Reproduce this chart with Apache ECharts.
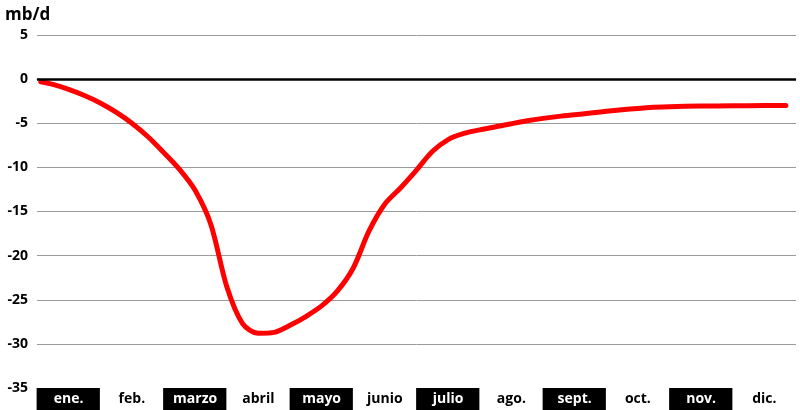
<!DOCTYPE html>
<html><head><meta charset="utf-8">
<script src="https://cdn.jsdelivr.net/npm/echarts@6/dist/echarts.min.js"></script>
<style>html,body{margin:0;padding:0;background:#fff}#c{width:800px;height:410px}</style>
</head><body><div id="c"></div>
<script>
const unitLabel = 'mb/d';
const months = ['ene.','feb.','marzo','abril','mayo','junio','julio','ago.','sept.','oct.','nov.','dic.'];
// position along the year, in months from the start of January
const monthPos = [0.06,0.25,0.5,0.75,1.0,1.25,1.5,1.75,2.0,2.25,2.5,2.75,3.0,3.25,3.5,3.75,4.0,4.25,4.5,4.75,5.0,5.25,5.5,5.75,6.0,6.25,6.5,6.75,7.0,7.25,7.5,7.75,8.0,8.25,8.5,8.75,9.0,9.25,9.5,9.75,10.0,10.5,11.0,11.5,11.84];
const values   = [-0.3,-0.6,-1.15,-1.85,-2.7,-3.75,-5.0,-6.5,-8.3,-10.2,-12.6,-16.5,-23.5,-27.7,-28.8,-28.7,-27.9,-26.9,-25.7,-24.0,-21.4,-17.2,-14.15,-12.3,-10.3,-8.2,-6.85,-6.15,-5.75,-5.4,-5.05,-4.72,-4.45,-4.22,-4.03,-3.85,-3.65,-3.47,-3.32,-3.2,-3.12,-3.05,-3.02,-3.0,-3.0];
const yMin = -35, yMax = 5, yStep = 5;

const chart = echarts.init(document.getElementById('c'), null, {renderer:'canvas'});
const FONT = '"Open Sans", "Liberation Sans", sans-serif';
chart.setOption({
  animation: false,
  backgroundColor: '#fff',
  title: {text: unitLabel, left: 0, top: 2, textStyle: {fontFamily: FONT, fontWeight: 'bold', fontSize: 17, color: '#000'}},
  grid: {left: 37, right: 4, top: 35, bottom: 22},
  xAxis: [
    {type: 'category', data: months, boundaryGap: true,
     axisTick: {show: false},
     axisLine: {show: true, lineStyle: {color: '#999', width: 1}},
     splitLine: {show: false},
     axisLabel: {interval: 0, margin: 0,
       formatter: (v, i) => (i % 2 === 0 ? '{d|' + v + '}' : '{l|' + v + '}'),
       rich: {
         d: {width: 64, height: 22, lineHeight: 22, align: 'center', backgroundColor: '#000', color: '#fff', fontFamily: FONT, fontWeight: 'bold', fontSize: 14},
         l: {width: 64, height: 22, lineHeight: 22, align: 'center', backgroundColor: '#fff', color: '#000', fontFamily: FONT, fontWeight: 'bold', fontSize: 14}
       }}},
    {type: 'value', min: 0, max: 12, show: false}
  ],
  yAxis: {type: 'value', min: yMin, max: yMax, interval: yStep,
    axisLine: {show: false}, axisTick: {show: false},
    axisLabel: {margin: 9, color: '#000', fontFamily: FONT, fontWeight: 'bold', fontSize: 14},
    splitLine: {lineStyle: {color: '#9a9a9a', width: 1}}},
  series: [{
    type: 'line', xAxisIndex: 1, smooth: 0.3, symbol: 'none',
    data: monthPos.map((t, i) => [t, values[i]]),
    lineStyle: {color: '#ff0000', width: 5, cap: 'round'},
    z: 3,
    markLine: {silent: true, symbol: 'none', label: {show: false},
      lineStyle: {color: '#000', width: 2.5, type: 'solid'},
      data: [{yAxis: 0}]}
  }]
});
</script></body></html>
